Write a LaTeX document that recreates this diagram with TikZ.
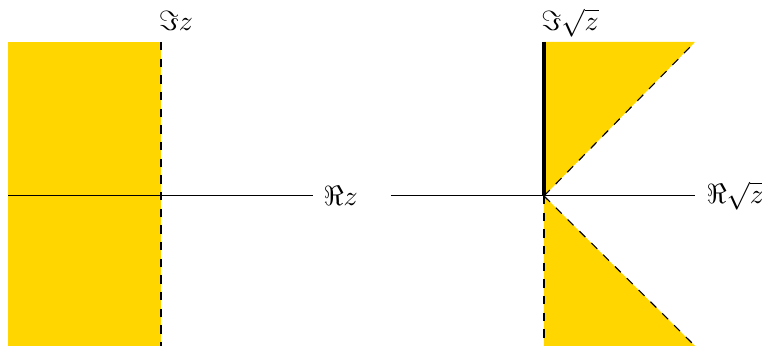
\documentclass[tikz,border=0pt]{standalone}
\usepackage{amssymb}
\definecolor{gold}{RGB}{255,214,0}
\begin{document}
\begin{tikzpicture}[x=0.36pt,y=-0.36pt,
  region/.style={fill=gold,draw=none},
  boundary/.style={draw=black,dashed,line width=0.4pt},
  axis/.style={draw=black,line width=0.35pt},
  cut/.style={draw=black,line width=1.5pt},
  lbl/.style={inner sep=0pt}]
\useasboundingbox (0,0) rectangle (762,346);
% left panel
\coordinate (L0) at (161,196);
\coordinate (LT) at (161,42);
\coordinate (LB) at (161,346);
\fill[region] (8,42) rectangle (LB);
\draw[boundary] (LT) -- (LB);
\coordinate (LAl) at (8,196);
\coordinate (LAr) at (313,196);
\draw[axis] (LAl) -- (LAr);
\node[lbl,anchor=west] (rez) at (323,196) {$\Re z$};
\node[lbl,anchor=base] (imz) at (176,31) {$\Im z$};
% right panel
\coordinate (R0) at (544,196);
\coordinate (RT) at (544,42);
\coordinate (RB) at (544,346);
\coordinate (RUT) at (695,42);
\coordinate (RLB) at (695,346);
\fill[region] (R0) -- (RT) -- (RUT) -- cycle;
\fill[region] (R0) -- (RB) -- (RLB) -- cycle;
\draw[boundary] (R0) -- (RUT);
\draw[boundary] (R0) -- (RLB);
\draw[boundary] (R0) -- (RB);
\coordinate (RAl) at (391,196);
\coordinate (RAr) at (695,196);
\draw[axis] (RAl) -- (RAr);
\draw[cut] (R0) -- (RT);
\node[lbl,anchor=west] (resz) at (706,196) {$\Re\sqrt{z}$};
\node[lbl,anchor=base] (imsz) at (570,31) {$\Im\sqrt{z}$};
\end{tikzpicture}
\end{document}
